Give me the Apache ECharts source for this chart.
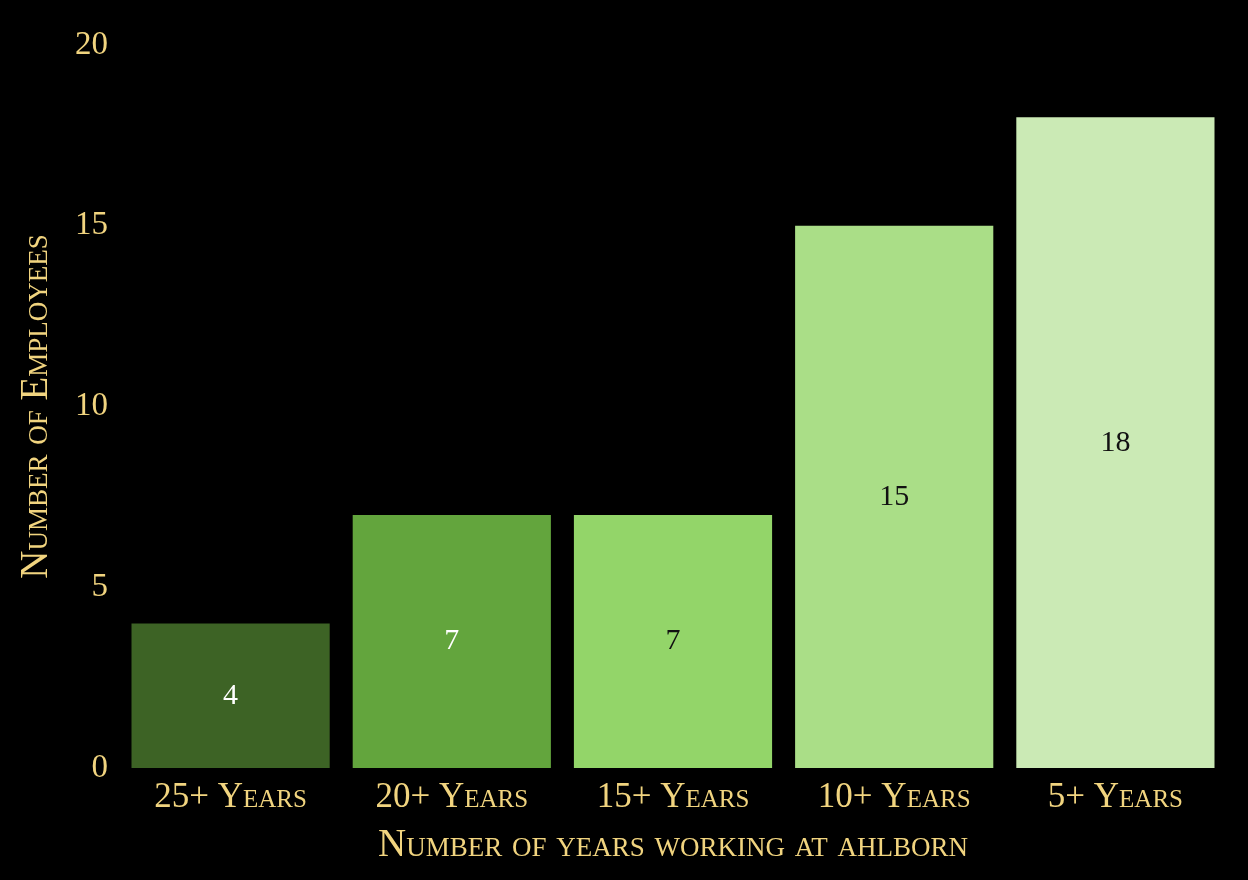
<!DOCTYPE html>
<html>
<head>
<meta charset="utf-8">
<title>Years at Ahlborn</title>
<script src="https://cdn.jsdelivr.net/npm/echarts@6/dist/echarts.min.js"></script>
<style>
  html, body { margin: 0; padding: 0; background: #000; }
  #chart { width: 1248px; height: 880px; }
</style>
</head>
<body>
<div id="chart"></div>
<script>
// data
var categories = ['25+ Years', '20+ Years', '15+ Years', '10+ Years', '5+ Years'];
var employees = [4, 7, 7, 15, 18];
var barColors = ['#3d6325', '#63a53d', '#93d569', '#aade87', '#cbeab5'];
var labelColors = ['#ffffff', '#ffffff', '#111111', '#111111', '#111111'];
var yTicks = [0, 5, 10, 15, 20];

var gold = '#f1d47f';
var fam = '"Liberation Serif", "DejaVu Serif", serif';

var chart = echarts.init(document.getElementById('chart'));

chart.setOption({
  backgroundColor: '#000000',
  animation: false,
  grid: { left: 120, right: 22, top: 45, bottom: 112 },
  xAxis: {
    type: 'category',
    data: categories,
    name: 'Number of years working at ahlborn',
    nameLocation: 'middle',
    nameGap: 58,
    nameTextStyle: { color: gold, fontSize: 39, fontFamily: fam, fontStyle: 'small-caps' },
    axisLine: { show: false },
    axisTick: { show: false },
    axisLabel: { color: gold, fontSize: 35, fontFamily: fam, fontStyle: 'small-caps', margin: 12 }
  },
  yAxis: {
    type: 'value',
    min: yTicks[0],
    max: yTicks[yTicks.length - 1],
    interval: 5,
    name: 'Number of Employees',
    nameLocation: 'middle',
    nameGap: 64,
    nameTextStyle: { color: gold, fontSize: 39, fontFamily: fam, fontStyle: 'small-caps' },
    splitLine: { show: false },
    axisLine: { show: false },
    axisTick: { show: false },
    axisLabel: { color: gold, fontSize: 33, fontFamily: fam, margin: 12 }
  },
  series: [{
    type: 'bar',
    barCategoryGap: '10.4%',
    data: employees.map(function (v, i) {
      return {
        value: v,
        itemStyle: { color: barColors[i] },
        label: { color: labelColors[i] }
      };
    }),
    label: {
      show: true,
      position: 'inside',
      fontSize: 30,
      fontFamily: fam
    }
  }]
});
</script>
</body>
</html>
